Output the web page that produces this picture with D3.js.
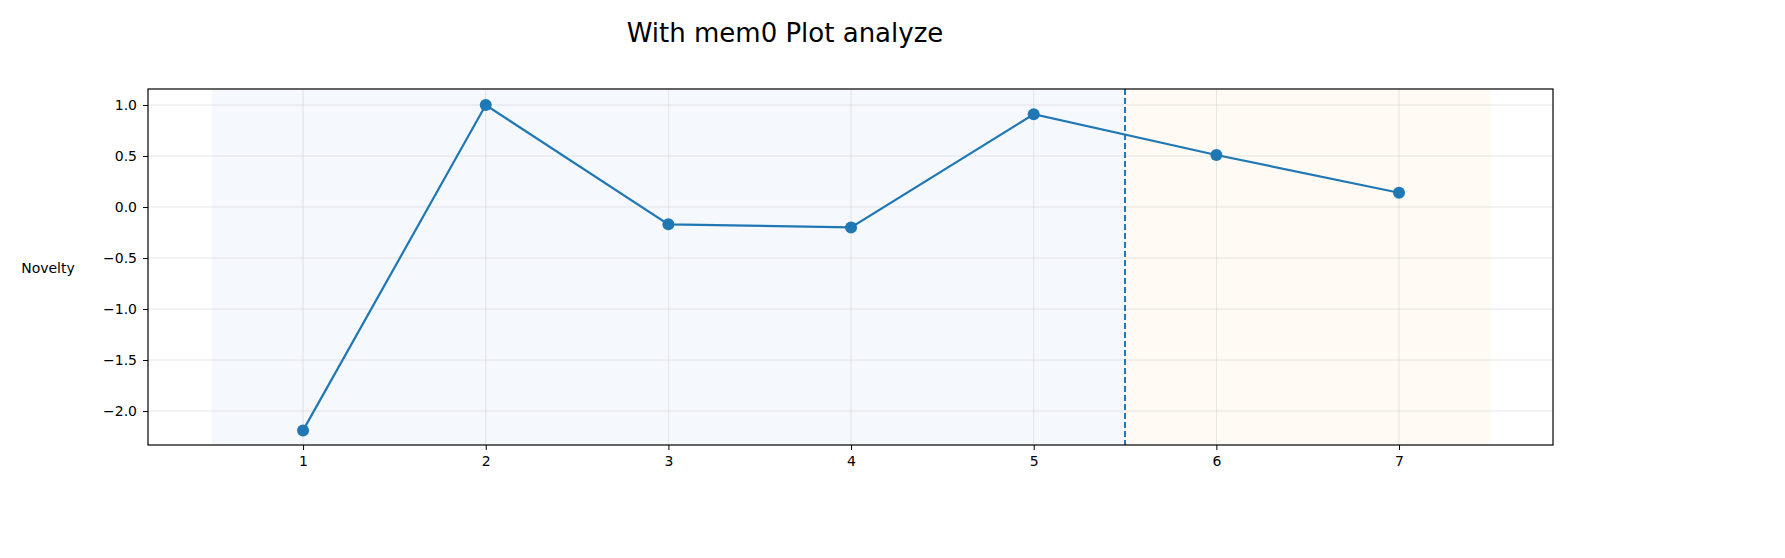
<!DOCTYPE html>
<html>
<head>
<meta charset="utf-8">
<script src="https://cdn.jsdelivr.net/npm/d3@7"></script>
<style>
  body { margin: 0; background: #fff; }
  text { font-family: "DejaVu Sans", sans-serif; }
</style>
</head>
<body>
<svg id="chart" width="1785" height="558"></svg>
<script>
// Novelty per step
var steps = [1, 2, 3, 4, 5, 6, 7];
var novelty = [-2.19, 1.0, -0.17, -0.20, 0.91, 0.51, 0.14];
var yTicks = [-2.0, -1.5, -1.0, -0.5, 0.0, 0.5, 1.0];
var phases = [
    { from: 0.5, to: 5.5, color: "#f5f8fd" },
    { from: 5.5, to: 7.5, color: "#fffaf3" }
];
var splitAt = 5.5;

(function () {
    var svg = d3.select("#chart");
    var pL = 148, pR = 1553, pT = 89, pB = 445;

    var x = d3.scaleLinear().domain([0.151, 7.843]).range([pL, pR]);
    var y = d3.scaleLinear().domain([-2.333, 1.157]).range([pB, pT]);

    // Title
    svg.append("text").attr("x", 785).attr("y", 42).attr("text-anchor", "middle")
        .attr("font-size", 26).text("With mem0 Plot analyze");

    // Background bands
    svg.selectAll("rect.band").data(phases).enter().append("rect")
        .attr("x", function (d) { return x(d.from); })
        .attr("width", function (d) { return x(d.to) - x(d.from); })
        .attr("y", pT).attr("height", pB - pT)
        .attr("fill", function (d) { return d.color; });

    // Grid
    svg.selectAll("line.gx").data(steps).enter().append("line")
        .attr("x1", function (d) { return x(d); }).attr("x2", function (d) { return x(d); })
        .attr("y1", pT).attr("y2", pB).attr("stroke", "#ccc").attr("stroke-width", 0.6).attr("opacity", 0.8);
    svg.selectAll("line.gy").data(yTicks).enter().append("line")
        .attr("y1", function (d) { return y(d); }).attr("y2", function (d) { return y(d); })
        .attr("x1", pL).attr("x2", pR).attr("stroke", "#ccc").attr("stroke-width", 0.6).attr("opacity", 0.8);

    // Split line
    svg.append("line").attr("x1", x(splitAt)).attr("x2", x(splitAt)).attr("y1", pT).attr("y2", pB)
        .attr("stroke", "#1f77b4").attr("stroke-width", 2).attr("stroke-dasharray", "6,3");

    // Axes
    var xAxis = svg.append("g").attr("transform", "translate(0," + pB + ")")
        .call(d3.axisBottom(x).tickValues(steps).tickFormat(d3.format("d")).tickSize(5).tickPadding(6));
    var yAxis = svg.append("g").attr("transform", "translate(" + pL + ",0)")
        .call(d3.axisLeft(y).tickValues(yTicks).tickFormat(function (d) { return d3.format(".1f")(d).replace("-", "\u2212"); }).tickSize(5).tickPadding(6));
    [xAxis, yAxis].forEach(function (g) {
        g.select(".domain").remove();
        g.selectAll("text").attr("font-size", 14).attr("fill", "#000");
        g.selectAll("line").attr("stroke", "#000");
    });

    svg.append("rect").attr("x", pL).attr("y", pT).attr("width", pR - pL).attr("height", pB - pT)
        .attr("fill", "none").attr("stroke", "#000").attr("stroke-width", 1.2);

    svg.append("text").attr("x", 48).attr("y", 273).attr("text-anchor", "middle")
        .attr("font-size", 14).text("Novelty");

    // Line + markers
    var pts = steps.map(function (s, i) { return [s, novelty[i]]; });
    svg.append("path").datum(pts)
        .attr("d", d3.line().x(function (d) { return x(d[0]); }).y(function (d) { return y(d[1]); }))
        .attr("fill", "none").attr("stroke", "#1f77b4").attr("stroke-width", 2.2);
    svg.selectAll("circle").data(pts).enter().append("circle")
        .attr("cx", function (d) { return x(d[0]); }).attr("cy", function (d) { return y(d[1]); })
        .attr("r", 6).attr("fill", "#1f77b4");
})();
</script>
</body>
</html>
